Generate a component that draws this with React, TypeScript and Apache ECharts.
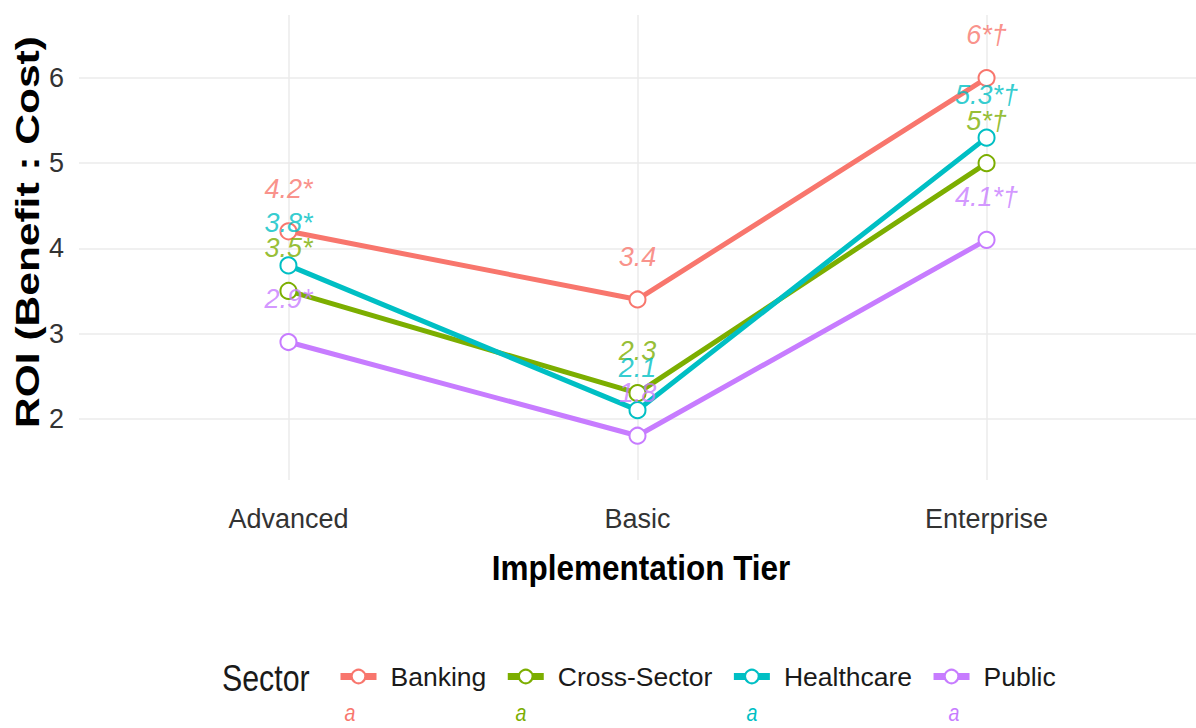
import React, { useEffect, useRef } from "react";
import * as echarts from "echarts";

const tiers = ["Advanced", "Basic", "Enterprise"];
const sectors = ["Banking", "Cross-Sector", "Healthcare", "Public"];
const colors = ["#F8766D", "#7CAE00", "#00BFC4", "#C77CFF"];

const banking = [4.2, 3.4, 6.0];
const crossSector = [3.5, 2.3, 5.0];
const healthcare = [3.8, 2.1, 5.3];
const publicSector = [2.9, 1.8, 4.1];

const bankingLabels = ["4.2*", "3.4", "6*†"];
const crossLabels = ["3.5*", "2.3", "5*†"];
const healthLabels = ["3.8*", "2.1", "5.3*†"];
const publicLabels = ["2.9*", "1.8", "4.1*†"];

const yMin = 1.28;
const yMax = 6.74;
const labelNudge = 0.5;

const SANS = '"Liberation Sans", Arial, sans-serif';

export default function App() {
  const ref = useRef<HTMLDivElement>(null);

  useEffect(() => {
    if (!ref.current) return;
    const chart = echarts.init(ref.current, null, { renderer: "svg" });
    const values = [banking, crossSector, healthcare, publicSector];
    const labels = [bankingLabels, crossLabels, healthLabels, publicLabels];

    const lineSeries = sectors.map((name, i) => ({
      name,
      type: "line",
      data: values[i].map((v, j) => [j, v]),
      symbol: "emptyCircle",
      symbolSize: 16,
      color: colors[i],
      lineStyle: { width: 5, color: colors[i] },
      itemStyle: { color: colors[i], borderColor: colors[i], borderWidth: 2 },
      z: 2,
    }));

    const labelSeries = sectors.map((name, i) => ({
      name: name + "-label",
      type: "scatter",
      data: values[i].map((v, j) => [j, v + labelNudge]),
      symbol: "circle",
      symbolSize: 1,
      itemStyle: { color: "rgba(0,0,0,0)" },
      silent: true,
      z: 3,
      label: {
        show: true,
        position: "inside",
        formatter: (p: any) => labels[i][p.dataIndex],
        color: colors[i],
        fontStyle: "italic",
        fontFamily: SANS,
        fontSize: 27,
      },
    }));

    const aMarks = [350, 521, 752, 954].map((x, i) => ({
      type: "text",
      x,
      y: 713,
      scaleX: 0.82,
      style: {
        text: "a",
        fill: colors[i],
        font: `italic 24px ${SANS}`,
        align: "center",
        verticalAlign: "middle",
      },
    }));

    chart.setOption({
      animation: false,
      backgroundColor: "#ffffff",
      grid: { left: 79, top: 15, width: 1125, height: 465, containLabel: false },
      xAxis: {
        type: "value",
        min: -0.6,
        max: 2.6,
        splitNumber: 3,
        minInterval: 1,
        axisLine: { show: false },
        axisTick: { show: false },
        axisLabel: {
          showMinLabel: false,
          showMaxLabel: false,
          margin: 25,
          color: "#333333",
          fontFamily: SANS,
          fontSize: 27,
          formatter: (v: number) => (Number.isInteger(v) ? tiers[Math.abs(v)] : ""),
        },
        splitLine: {
          show: true,
          showMinLine: false,
          showMaxLine: false,
          lineStyle: { color: "#EBEBEB", width: 1.5 },
        },
      },
      yAxis: {
        type: "value",
        min: yMin,
        max: yMax,
        splitNumber: 5,
        axisLine: { show: false },
        axisTick: { show: false },
        axisLabel: {
          showMinLabel: false,
          showMaxLabel: false,
          margin: 15,
          color: "#333333",
          fontFamily: SANS,
          fontSize: 27,
          formatter: (v: number) => (Number.isInteger(v) ? String(v) : ""),
        },
        splitLine: {
          show: true,
          showMinLine: false,
          showMaxLine: false,
          lineStyle: { color: "#EBEBEB", width: 1.5 },
        },
      },
      legend: {
        data: sectors,
        left: 332,
        top: 658,
        itemWidth: 36,
        itemHeight: 17,
        itemGap: 18,
        lineStyle: { width: 7 },
        textStyle: {
          fontFamily: SANS,
          fontSize: 26.5,
          color: "#1a1a1a",
          padding: [0, 0, 0, 9],
        },
      },
      graphic: [
        {
          type: "text",
          x: 27,
          y: 232,
          rotation: Math.PI / 2,
          scaleX: 1.25,
          style: {
            text: "ROI (Benefit : Cost)",
            fill: "#000000",
            font: `bold 34px ${SANS}`,
            align: "center",
            verticalAlign: "middle",
          },
        },
        {
          type: "text",
          x: 641,
          y: 567,
          scaleX: 0.875,
          style: {
            text: "Implementation Tier",
            fill: "#000000",
            font: `bold 36px ${SANS}`,
            align: "center",
            verticalAlign: "middle",
          },
        },
        {
          type: "text",
          x: 222,
          y: 678,
          scaleX: 0.82,
          style: {
            text: "Sector",
            fill: "#1a1a1a",
            font: `37px ${SANS}`,
            align: "left",
            verticalAlign: "middle",
          },
        },
        ...aMarks,
      ],
      series: [...lineSeries, ...labelSeries],
    });

    return () => chart.dispose();
  }, []);

  return (
    <div
      ref={ref}
      style={{ position: "fixed", left: 0, top: 0, width: 1196, height: 728, background: "#fff" }}
    />
  );
}
